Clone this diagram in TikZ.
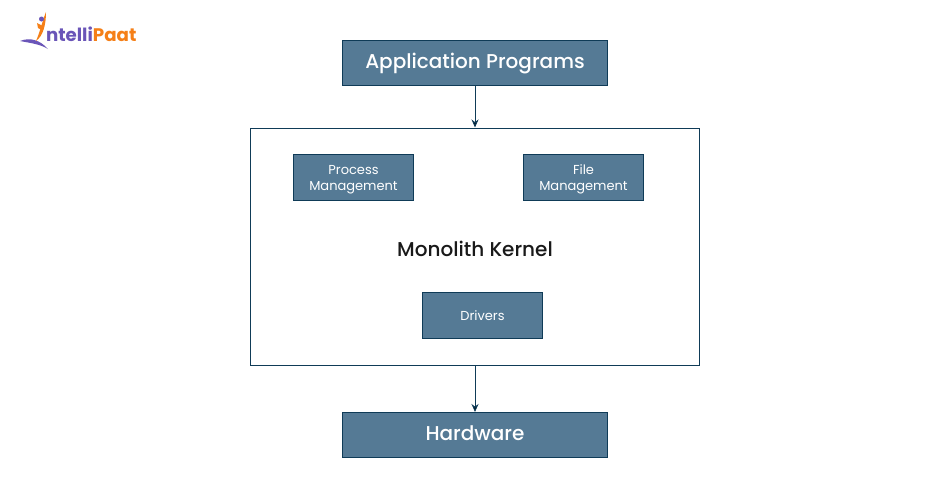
\documentclass[tikz,border=0pt]{standalone}
\usepackage{fontspec}
\setmainfont{Poppins}
\newfontfamily\medfont{Poppins Medium}
\usepackage{tikz}
\usetikzlibrary{arrows,arrows.meta,positioning}
\definecolor{boxfill}{HTML}{557A95}
\definecolor{boxline}{HTML}{0F3B57}
\definecolor{logopurple}{HTML}{6A55B8}
\definecolor{logoorange}{HTML}{F57F17}
\newcommand{\topstrut}{\rule{0pt}{14pt}}
\tikzset{bigbox/.style={draw=boxline, fill=boxfill, line width=1pt, text=white, minimum width=265pt, minimum height=45pt, inner sep=0pt, text height=15pt, text depth=4pt, font=\medfont\fontsize{20}{24}\selectfont}}
\tikzstyle{smallbox}=[draw=boxline, fill=boxfill, line width=1pt, text=white, minimum width=120pt, minimum height=46pt, inner sep=0pt, align=center, font=\fontsize{13}{16}\selectfont]

\begin{document}
\begin{tikzpicture}[x=1pt, y=1pt, >={Stealth[length=8pt,width=7pt]}, line width=1pt]
\useasboundingbox (0,0) rectangle (950,-501);
\fill[white] (0,0) rectangle (950,-501);
\node[bigbox] at (475,-62.5) (App){Application Programs};
\node[draw=boxline, line width=1pt, minimum width=449pt, minimum height=237pt, inner sep=0pt, below=42pt of App] (Kernel){};
\node[smallbox, below right=26pt and 43pt of Kernel.north west] (Process){\topstrut Process\\Management};
\node[smallbox, right=109pt of Process] (File){\topstrut File\\Management};
\node[text=black!90, font=\medfont\fontsize{20}{24}\selectfont] at (475,-249) (Mono){Monolith Kernel};
\node[smallbox] at (482.5,-315.5) (Drivers){Drivers};
\node[bigbox, below=46.5pt of Kernel] (Hw){Hardware};
% logo
\node[anchor=base west, inner sep=0pt, font=\bfseries\fontsize{18.2}{22}\selectfont] at (45.5,-41.5) (Logo){\textcolor{logopurple}{ntelli}\textcolor{logoorange}{Paat}};
\coordinate (LogoA) at (20,-41);
\coordinate (LogoB) at (48,-49);
\coordinate (LogoC) at (46,-12);
\coordinate (LogoD) at (36,-41);
\fill[logopurple] (LogoA) .. controls (30,-37) and (40,-40) .. (LogoB) .. controls (40,-44) and (30,-43) .. (LogoA);
\fill[logoorange] (LogoC) .. controls (46,-25) and (43,-36) .. (LogoD) .. controls (40,-32) and (42,-22) .. (LogoC);
\fill[logoorange] (37,-23) -- (43,-26) -- (42,-30) -- (38,-28) -- cycle;
\fill[logopurple] (41.5,-19) circle (2.5);

\path[->, draw=boxline]
(App) edge (Kernel)
(Kernel) edge (Hw)
;
\end{tikzpicture}
\end{document}
